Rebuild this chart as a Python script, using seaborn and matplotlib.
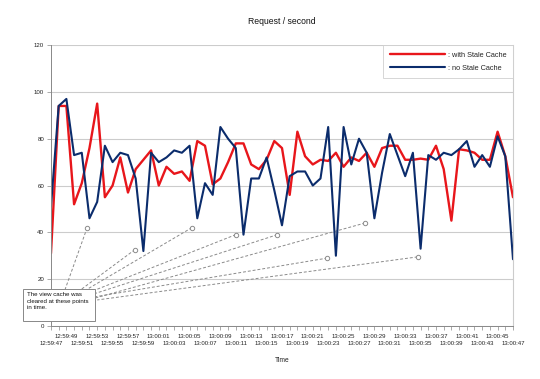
import numpy as np
import pandas as pd
import matplotlib
matplotlib.use("Agg")
import matplotlib.pyplot as plt
from matplotlib.patches import Rectangle
import seaborn as sns

# one sample per second, 12:59:47 .. 13:00:47
times = pd.date_range("2010-01-01 12:59:47", "2010-01-01 13:00:47", freq="s").strftime("%H:%M:%S").tolist()

with_stale = [31, 94, 94, 52, 61, 76, 95, 55, 60, 72, 57, 67, 71, 75, 60, 68, 65, 66, 62, 79,
              77, 60.5, 63, 70, 78, 78, 69, 67, 71, 79, 76, 56, 83, 72.5, 69, 71, 70.5, 74, 68, 72,
              70.5, 74, 68, 76, 77, 77, 71, 71, 71.5, 71, 77, 67, 45, 75.5, 75, 74, 71, 71, 83, 72.5, 55]
no_stale = [51, 94, 97, 73, 74, 46, 53, 77, 70, 74, 73, 63, 32, 74, 70, 72, 75, 74, 77, 46,
            61, 56, 85, 80, 76, 39, 63, 63, 72, 58, 43, 64, 66, 66, 60, 63, 85, 30, 85, 69,
            80, 74, 46, 65.5, 82, 73, 64, 74, 33, 73, 71, 74, 73, 75.5, 79, 68, 73, 68, 81, 72.5, 28.5]

# points where the view cache was cleared (x = seconds from start, y = marker height)
cleared_x = [4.7, 10.9, 18.3, 24.0, 29.4, 35.9, 40.8, 47.6]
cleared_y = [42, 32.6, 42, 39, 39, 29, 44, 29.5]
# where each leader line meets the callout box
leader_x = [1.8, 3.8, 4.3, 4.7, 5.1, 5.45, 5.7, 6.0]
leader_y = [15.3, 15.3, 14.9, 14.0, 13.2, 12.3, 11.9, 11.1]

df = pd.DataFrame({"t": np.arange(len(times)), "with": with_stale, "no": no_stale})

sns.set_style("white")
plt.rcParams["font.family"] = ["Liberation Sans", "DejaVu Sans"]

fig = plt.figure(figsize=(5.4, 3.79), dpi=100)
ax = fig.add_axes([0.0944, 0.140, 0.8556, 0.741])

sns.lineplot(data=df, x="t", y="with", ax=ax, color="#e8161b", lw=1.7, label=": with Stale Cache")
sns.lineplot(data=df, x="t", y="no", ax=ax, color="#0b2c6c", lw=1.5, label=": no Stale Cache")

ax.set_xlim(0, 60)
ax.set_ylim(0, 120)
ax.set_yticks(range(0, 121, 20))
ax.yaxis.grid(True, color="#cccccc", lw=0.8)
ax.set_axisbelow(True)

# tick mark every second, labels every 2 s on two staggered rows
upper = [t if i % 4 == 2 else "" for i, t in enumerate(times)]
lower_pos = [i for i in range(len(times)) if i % 4 == 0]
lower = [times[i] for i in lower_pos]
ax.xaxis.remove_overlapping_locs = False
ax.set_xticks(df["t"])
ax.set_xticklabels(upper, fontsize=4.3, color="#222222")
ax.set_xticks(lower_pos, minor=True)
ax.set_xticklabels(lower, minor=True, fontsize=4.3, color="#222222")
ax.tick_params(axis="x", which="major", direction="out", length=3, width=0.5, color="#888888",
               pad=2.5, bottom=True)
ax.tick_params(axis="x", which="minor", length=0, pad=10.5, bottom=True)
ax.tick_params(axis="y", direction="out", length=3, width=0.5, color="#888888", pad=2, left=True,
               labelsize=4.4, labelcolor="#222222")

for s in ["left", "bottom"]:
    ax.spines[s].set_color("#888888")
    ax.spines[s].set_linewidth(0.7)
ax.spines["right"].set_color("#cccccc")
ax.spines["right"].set_linewidth(0.8)
ax.spines["top"].set_visible(False)

ax.set_xlabel("Time", fontsize=4.8, color="#222222", labelpad=8)
ax.set_ylabel("")
ax.set_title("Request / second", fontsize=6.2, color="#111111", pad=15)

leg = ax.legend(loc="upper right", fontsize=5.3, handlelength=7.5, frameon=True, fancybox=False,
                borderpad=0.9, labelspacing=0.75, borderaxespad=0.0, handletextpad=0.4)
leg.get_frame().set_edgecolor("#cccccc")
leg.get_frame().set_linewidth(0.7)

# callout: dashed leaders from cleared points to the note
for cx, cy, lx, ly in zip(cleared_x, cleared_y, leader_x, leader_y):
    ax.plot([cx, lx], [cy, ly], ls=(0, (3, 2)), color="#8a8a8a", lw=0.7, clip_on=False, zorder=1)
ax.scatter(cleared_x, cleared_y, s=10, facecolor="white", edgecolor="#8a8a8a", linewidth=0.7, zorder=3)

ax.add_patch(Rectangle((-3.6, 2.3), 9.3, 13.4, facecolor="white", edgecolor="#888888",
                       lw=0.7, clip_on=False, zorder=4))
ax.text(-3.1, 14.4, "The view cache was\ncleared at these points\nin time.", fontsize=4.4,
        color="#111111", va="top", ha="left", linespacing=1.35, zorder=5, clip_on=False)

fig.savefig("out.png", dpi=100)
